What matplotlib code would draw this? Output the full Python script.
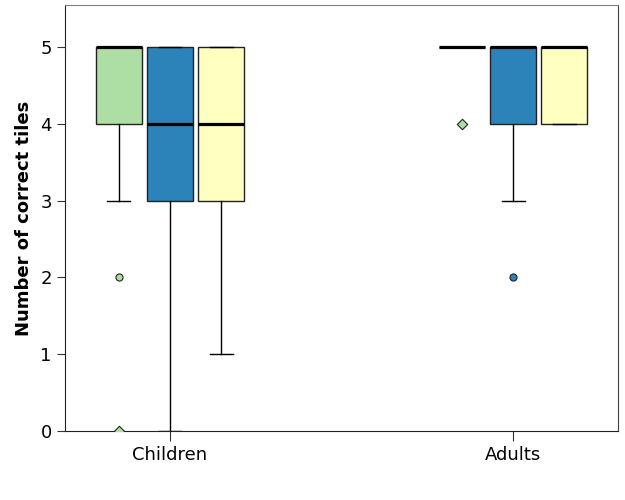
import matplotlib.pyplot as plt

# boxplot summary per group: [Children, Adults], one list per condition
groups = ['Children', 'Adults']
colors = ['#addea4', '#2b83ba', '#ffffc0']

q1 = [[4, 5], [3, 4], [3, 4]]
med = [[5, 5], [4, 5], [4, 5]]
q3 = [[5, 5], [5, 5], [5, 5]]
whislo = [[3, 5], [0, 3], [1, 4]]
whishi = [[5, 5], [5, 5], [5, 5]]
# outliers (circles) and extremes (diamonds)
outliers = [[[2], []], [[], [2]], [[], []]]
extremes = [[[0], [4]], [[], []], [[], []]]

fig = plt.figure(figsize=(6.25, 5), dpi=100)
ax = fig.add_axes([0.104, 0.138, 0.885, 0.852])

offset = 0.149
width = 0.134
for c in range(3):
    stats = []
    pos = []
    for g in range(len(groups)):
        stats.append(dict(q1=q1[c][g], med=med[c][g], q3=q3[c][g],
                          whislo=whislo[c][g], whishi=whishi[c][g], fliers=[]))
        pos.append(g + 1 + (c - 1) * offset)
    ax.bxp(stats, positions=pos, widths=width, patch_artist=True,
           showfliers=False,
           boxprops=dict(facecolor=colors[c], edgecolor='#222222', linewidth=1),
           medianprops=dict(color='black', linewidth=2.3, solid_capstyle='butt'),
           whiskerprops=dict(color='black', linewidth=1),
           capprops=dict(color='black', linewidth=1),
           capwidths=width / 2)
    for g in range(len(groups)):
        x = g + 1 + (c - 1) * offset
        for v in outliers[c][g]:
            ax.scatter([x], [v], s=26, marker='o', facecolor=colors[c],
                       edgecolor='#222222', linewidth=0.8, zorder=4)
        for v in extremes[c][g]:
            ax.scatter([x], [v], s=28, marker='D', facecolor=colors[c],
                       edgecolor='#222222', linewidth=0.8, zorder=4)

ax.set_xlim(0.694, 2.306)
ax.set_ylim(0, 5.547)
ax.set_yticks([0, 1, 2, 3, 4, 5])
ax.set_xticks([1, 2])
ax.set_xticklabels(groups)
ax.tick_params(axis='both', labelsize=13, colors='#333333', labelcolor='black')
ax.tick_params(axis='y', length=6)
ax.tick_params(axis='x', length=7)
ax.set_ylabel('Number of correct tiles', fontsize=13, fontweight='bold', labelpad=5)

ax.spines['top'].set_color('#808080')
ax.spines['right'].set_color('#444444')
ax.spines['left'].set_color('#222222')
ax.spines['bottom'].set_color('#222222')

fig.savefig('out.png', dpi=100)
